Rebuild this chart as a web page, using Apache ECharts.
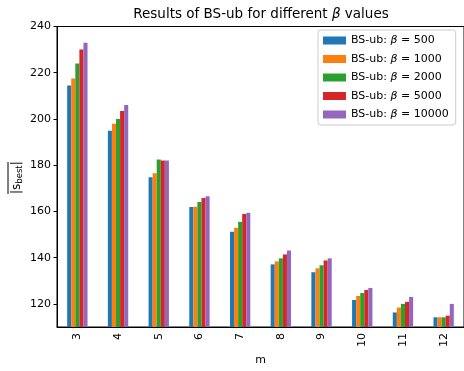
<!DOCTYPE html>
<html><head><meta charset="utf-8">
<script src="https://cdn.jsdelivr.net/npm/echarts@6/dist/echarts.min.js"></script>
<style>html,body{margin:0;padding:0;background:#fff}#c{width:464px;height:371px}</style>
</head><body><div id="c"></div>
<script>
const categories = ['3','4','5','6','7','8','9','10','11','12'];
const betas = ['500','1000','2000','5000','10000'];
const b500   = [214.5, 194.9, 174.8, 161.9, 151.2, 137.1, 133.7, 121.7, 116.3, 114.2];
const b1000  = [217.5, 197.9, 176.5, 162.0, 152.9, 138.4, 135.4, 123.4, 118.4, 114.2];
const b2000  = [224.0, 200.0, 182.5, 164.1, 155.5, 139.7, 136.7, 124.7, 120.0, 114.2];
const b5000  = [230.0, 203.4, 182.0, 165.8, 158.9, 141.4, 138.8, 126.0, 120.9, 114.9];
const b10000 = [233.0, 206.0, 182.0, 166.6, 159.4, 143.1, 139.7, 126.9, 123.0, 120.0];
const yTicks = [120, 140, 160, 180, 200, 220, 240];
const colors = ['#1f77b4','#ff7f0e','#2ca02c','#d62728','#9467bd'];
const seriesData = [b500, b1000, b2000, b5000, b10000];

const F = 'DejaVu Sans';
const chart = echarts.init(document.getElementById('c'), null, {renderer:'canvas'});
const names = betas.map(b => 'BS-ub: β = ' + b);
chart.setOption({
  animation: false,
  textStyle: {fontFamily: F},
  grid: {left: 57, right: 0, top: 26.5, bottom: 40.5, show: true, borderColor: '#000', borderWidth: 1},
  legend: {
    left: 318, top: 30, orient: 'vertical',
    itemWidth: 23, itemHeight: 8, itemGap: 5.5,
    padding: [4, 7, 4, 5],
    borderColor: '#cccccc', borderWidth: 1, borderRadius: 3,
    icon: 'rect',
    data: names,
    formatter: function(n){ const b = n.split('= ')[1]; return '{a|BS-ub: }{i|β}{a| = ' + b + '}'; },
    textStyle: {fontFamily: F, fontSize: 11, color: '#000', lineHeight: 13,
      rich: {a: {fontFamily: F, fontSize: 11, color: '#000', lineHeight: 13},
             i: {fontFamily: F, fontSize: 11, fontStyle: 'italic', color: '#000', lineHeight: 13}}}
  },
  xAxis: {
    type: 'category', data: categories,
    axisLine: {lineStyle: {color: '#000', width: 1}},
    axisTick: {alignWithLabel: true, length: 3.5, lineStyle: {color: '#000'}},
    axisLabel: {rotate: 90, fontSize: 11, color: '#000', margin: 6, fontFamily: F},
    name: 'm', nameLocation: 'middle', nameGap: 28,
    nameTextStyle: {fontSize: 11, color: '#000', fontFamily: F}
  },
  yAxis: {
    type: 'value', min: 110, max: 240,
    splitLine: {show: false},
    axisLine: {show: true, lineStyle: {color: '#000', width: 1}},
    axisTick: {show: true, length: 3.5, lineStyle: {color: '#000'}, customValues: yTicks},
    axisLabel: {fontSize: 11, color: '#000', margin: 6, fontFamily: F, customValues: yTicks}
  },
  graphic: [
    {type: 'text', x: 261, y: 14, style: {
      text: '{a|Results of BS-ub for different }{i|β}{a| values}',
      align: 'center', verticalAlign: 'middle',
      rich: {a: {fontFamily: F, fontSize: 13.5, fill: '#000'}, i: {fontFamily: F, fontSize: 13.5, fontStyle: 'italic', fill: '#000'}}
    }},
    {type: 'text', x: 10, y: 194, rotation: Math.PI/2, style: {
      text: '{a||s}{s|best}{a||}', verticalAlign: 'top',
      rich: {a: {fontFamily: F, fontSize: 12, fill: '#000'}, s: {fontFamily: F, fontSize: 8.5, fill: '#000', padding: [5,0,0,0]}}
    }},
    {type: 'line', shape: {x1: 8, y1: 162, x2: 8, y2: 194}, style: {stroke: '#000', lineWidth: 1}}
  ],
  series: seriesData.map((d, i) => ({
    name: names[i], type: 'bar', data: d,
    itemStyle: {color: colors[i]},
    barGap: '0%', barCategoryGap: '50%'
  }))
});
</script></body></html>
